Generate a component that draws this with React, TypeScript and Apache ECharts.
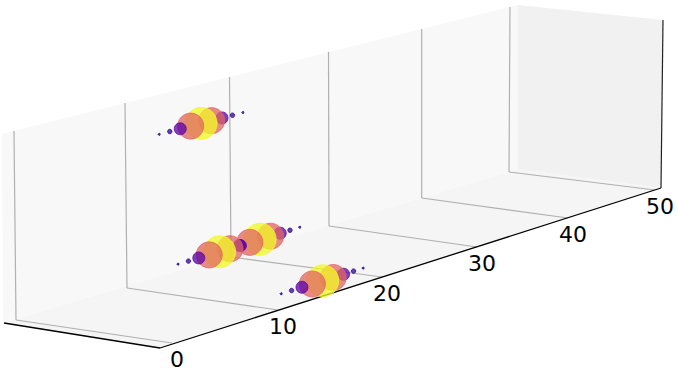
import React, { useEffect, useRef } from "react";
import * as echarts from "echarts";

// tick labels of the one visible depth axis
const depthTicks = [0, 10, 20, 30, 40, 50];

// values of each ridge of bubbles: depth along the axis
const ridgeADepth = [9.65, 10.65, 11.65, 12.65, 13.65, 14.65, 15.65, 16.65, 17.65];
const ridgeBDepth = [11.3, 12.3, 13.3, 14.3, 15.3, 16.3, 17.3];
const ridgeCDepth = [17.2, 18.2, 19.2, 20.2, 21.2, 22.2, 23.2];
const ridgeDDepth = [13.5, 14.5, 15.5, 16.5, 17.5, 18.5, 19.5, 20.5, 21.5];

// bubble weights along each ridge
const ridgeAWeight = [1, 5, 36, 170, 256, 170, 36, 5, 1];
const ridgeBWeight = [1, 5, 36, 170, 256, 170, 36];
const ridgeCWeight = [36, 170, 256, 170, 36, 5, 1];
const ridgeDWeight = [1, 5, 36, 170, 256, 170, 36, 5, 1];

// ridge location across the (unlabelled) width and height axes, 0..1
const ridgeWidth = [0.25, 0.25, 0.25, 0.78];
const ridgeHeight = [0.866, 0.137, 0.14, 0];

// Projection stations: where each depth tick lands on screen
const ST_BOTTOM = [[16, 320], [127, 288], [231, 257], [329, 226], [421.7, 198], [509, 172]];
const ST_FRONT = [[172, 343], [278, 310], [382, 277], [477, 247], [568, 218], [655, 190]];
const ST_TOP = [[14, 131], [125, 103], [229.5, 77], [328.5, 52], [421.7, 29], [510, 7]];

function station(table: number[][], d: number) {
  const f = Math.max(0, Math.min(4.9999, d / 10));
  const i = Math.floor(f);
  const t = f - i;
  return [
    table[i][0] + (table[i + 1][0] - table[i][0]) * t,
    table[i][1] + (table[i + 1][1] - table[i][1]) * t,
  ];
}

function project(w: number, d: number, h: number) {
  const a = station(ST_BOTTOM, d);
  const b = station(ST_FRONT, d);
  const c = station(ST_TOP, d);
  return [
    a[0] + w * (b[0] - a[0]) + h * (c[0] - a[0]),
    a[1] + w * (b[1] - a[1]) + h * (c[1] - a[1]),
  ];
}

function plasma(v: number) {
  if (v < 3) return "#1f068f";
  if (v < 10) return "#2c0594";
  if (v < 100) return "#5a01a5";
  if (v < 200) return "#e16462";
  return "#f0f921";
}

const FONT = '22px "DejaVu Sans"';
const GRID = "#b0b0b0";

export default function App() {
  const ref = useRef<HTMLDivElement>(null);
  useEffect(() => {
    document.body.style.margin = "0";
    const chart = echarts.init(ref.current!, undefined, { renderer: "svg" });

    const ridges = [ridgeADepth, ridgeBDepth, ridgeCDepth, ridgeDDepth];
    const ridgeWeights = [ridgeAWeight, ridgeBWeight, ridgeCWeight, ridgeDWeight];
    const pts: { d: number; value: number[] }[] = [];
    ridges.forEach((depths, r) => {
      depths.forEach((d, i) => {
        const p = project(ridgeWidth[r], d, ridgeHeight[r]);
        pts.push({ d, value: [p[0], p[1], ridgeWeights[r][i]] });
      });
    });
    pts.sort((a, b) => b.d - a.d);

    const poly = (api: any, points: number[][], fill: string) => ({
      type: "polygon",
      shape: { points: points.map((p) => api.coord(p)) },
      style: { fill, stroke: "none" },
    });
    const seg = (api: any, p: number[], q: number[], stroke: string, lineWidth: number) => {
      const a = api.coord(p);
      const b = api.coord(q);
      return {
        type: "line",
        shape: { x1: a[0], y1: a[1], x2: b[0], y2: b[1] },
        style: { stroke, lineWidth, fill: "none" },
      };
    };

    chart.setOption({
      animation: false,
      backgroundColor: "#ffffff",
      grid: { left: 0, right: 0, top: 0, bottom: 0 },
      xAxis: { type: "value", min: 0, max: 678, show: false },
      yAxis: { type: "value", min: 0, max: 372, inverse: true, show: false },
      series: [
        {
          type: "custom",
          z: 1,
          silent: true,
          clip: false,
          data: [[0, 0]],
          renderItem: (_: any, api: any) => ({
            type: "group",
            children: [
              poly(api, [[2, 134], [518, 5], [518, 169], [3, 323]], "#f8f8f8"),
              poly(api, [[3, 323], [518, 169], [661, 188], [160, 348]], "#f5f5f5"),
              poly(api, [[518, 5], [663, 20], [661, 188], [518, 169]], "#f1f1f1"),
            ],
          }),
        },
        {
          type: "custom",
          z: 2,
          silent: true,
          clip: false,
          data: depthTicks.map((t) => [t, 0]),
          renderItem: (_: any, api: any) => {
            const d = api.value(0);
            const top = project(0, d, 1);
            const bottom = project(0, d, 0);
            const front = project(1, d, 0);
            const lab = api.coord([front[0] + 5, front[1] + 16]);
            return {
              type: "group",
              children: [
                seg(api, top, bottom, GRID, 1.2),
                seg(api, bottom, front, GRID, 1.2),
                {
                  type: "text",
                  style: {
                    text: String(d),
                    x: lab[0],
                    y: lab[1],
                    textAlign: "center",
                    textVerticalAlign: "middle",
                    font: FONT,
                    fill: "#000000",
                  },
                },
              ],
            };
          },
        },
        {
          type: "custom",
          z: 3,
          silent: true,
          clip: false,
          data: [[0, 0]],
          renderItem: (_: any, api: any) => ({
            type: "group",
            children: [
              seg(api, [4, 323], [160, 348], "#000000", 1.3),
              seg(api, [160, 348], [661, 188], "#000000", 1.3),
              seg(api, [663, 20], [661, 188], "#222222", 1.2),
            ],
          }),
        },
        {
          type: "scatter",
          z: 4,
          silent: true,
          data: pts.map((p) => ({
            value: p.value,
            itemStyle: {
              color: plasma(p.value[2]),
              borderColor: plasma(p.value[2]),
              borderWidth: 1,
              opacity: 0.75,
            },
          })),
          symbolSize: (v: number[]) => 2 * Math.sqrt(v[2]),
        },
      ],
    });
    return () => chart.dispose();
  }, []);
  return <div ref={ref} style={{ width: 678, height: 372 }} />;
}
